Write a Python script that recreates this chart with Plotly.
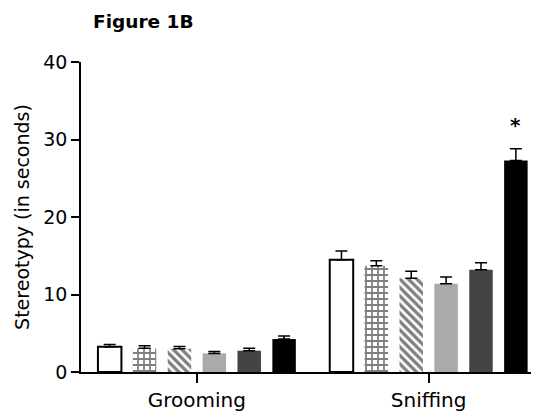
import plotly.graph_objects as go

categories = ["Grooming", "Sniffing"]
group_names = ["G1", "G2", "G3", "G4", "G5", "G6"]
means = [
    [3.25, 14.5],
    [3.05, 13.7],
    [3.0, 12.1],
    [2.4, 11.4],
    [2.75, 13.2],
    [4.25, 27.3],
]
sems = [
    [0.3, 1.1],
    [0.35, 0.65],
    [0.3, 0.9],
    [0.25, 0.85],
    [0.3, 0.9],
    [0.4, 1.5],
]
y_ticks = [0, 10, 20, 30, 40]

fills = ["white", "white", "white", "#aaaaaa", "#444444", "#000000"]
line_colors = ["black", "white", "white", "#aaaaaa", "#444444", "#000000"]
line_widths = [2, 0, 0, 0, 0, 0]
patterns = ["", "+", "\\", "", "", ""]
pattern_sizes = [8, 6, 6, 8, 8, 8]
solidities = [0.3, 0.5, 0.55, 0.3, 0.3, 0.3]

FONT = "DejaVu Sans, Arial, sans-serif"

fig = go.Figure()
for i, name in enumerate(group_names):
    fig.add_trace(go.Bar(
        x=categories, y=means[i], name=name,
        marker=dict(color=fills[i],
                    line=dict(color=line_colors[i], width=line_widths[i]),
                    pattern=dict(shape=patterns[i], fgcolor="black", bgcolor="white",
                                 size=pattern_sizes[i], solidity=solidities[i])),
        error_y=dict(type="data", symmetric=False, array=sems[i],
                     arrayminus=[0, 0], color="black", thickness=1.5, width=6),
    ))

fig.add_annotation(x=1 + 2.5 * 0.1505, y=31.9, xref="x", yref="y", text="<b>*</b>",
                   showarrow=False, font=dict(size=20, color="black", family=FONT))

# page has an 8px body margin, so the figure is 8px smaller and margins compensate
fig.update_layout(
    width=531, height=407,
    margin=dict(l=73, r=0, t=54, b=43),
    plot_bgcolor="white", paper_bgcolor="white",
    barmode="group", bargap=0.097, bargroupgap=0.327,
    showlegend=False,
    font=dict(family=FONT, color="black"),
    title=dict(text="<b>Figure 1B</b>", x=85 / 531, xanchor="left", y=1 - 14 / 407,
               yanchor="middle", font=dict(size=18.5, color="black")),
)
fig.update_xaxes(range=[-0.5, 1.476], showline=True, linecolor="black", linewidth=1.5,
                 ticks="outside", ticklen=9, tickwidth=1.5, tickcolor="black",
                 tickfont=dict(size=20), showgrid=False, zeroline=False)
fig.update_yaxes(range=[0, 40], tickvals=y_ticks, showline=True, linecolor="black",
                 linewidth=1.5, ticks="outside", ticklen=8, tickwidth=1.5, tickcolor="black",
                 tickfont=dict(size=19), showgrid=False, zeroline=False,
                 title=dict(text="Stereotypy (in seconds)", font=dict(size=19), standoff=9))

fig.write_html("out.html")
